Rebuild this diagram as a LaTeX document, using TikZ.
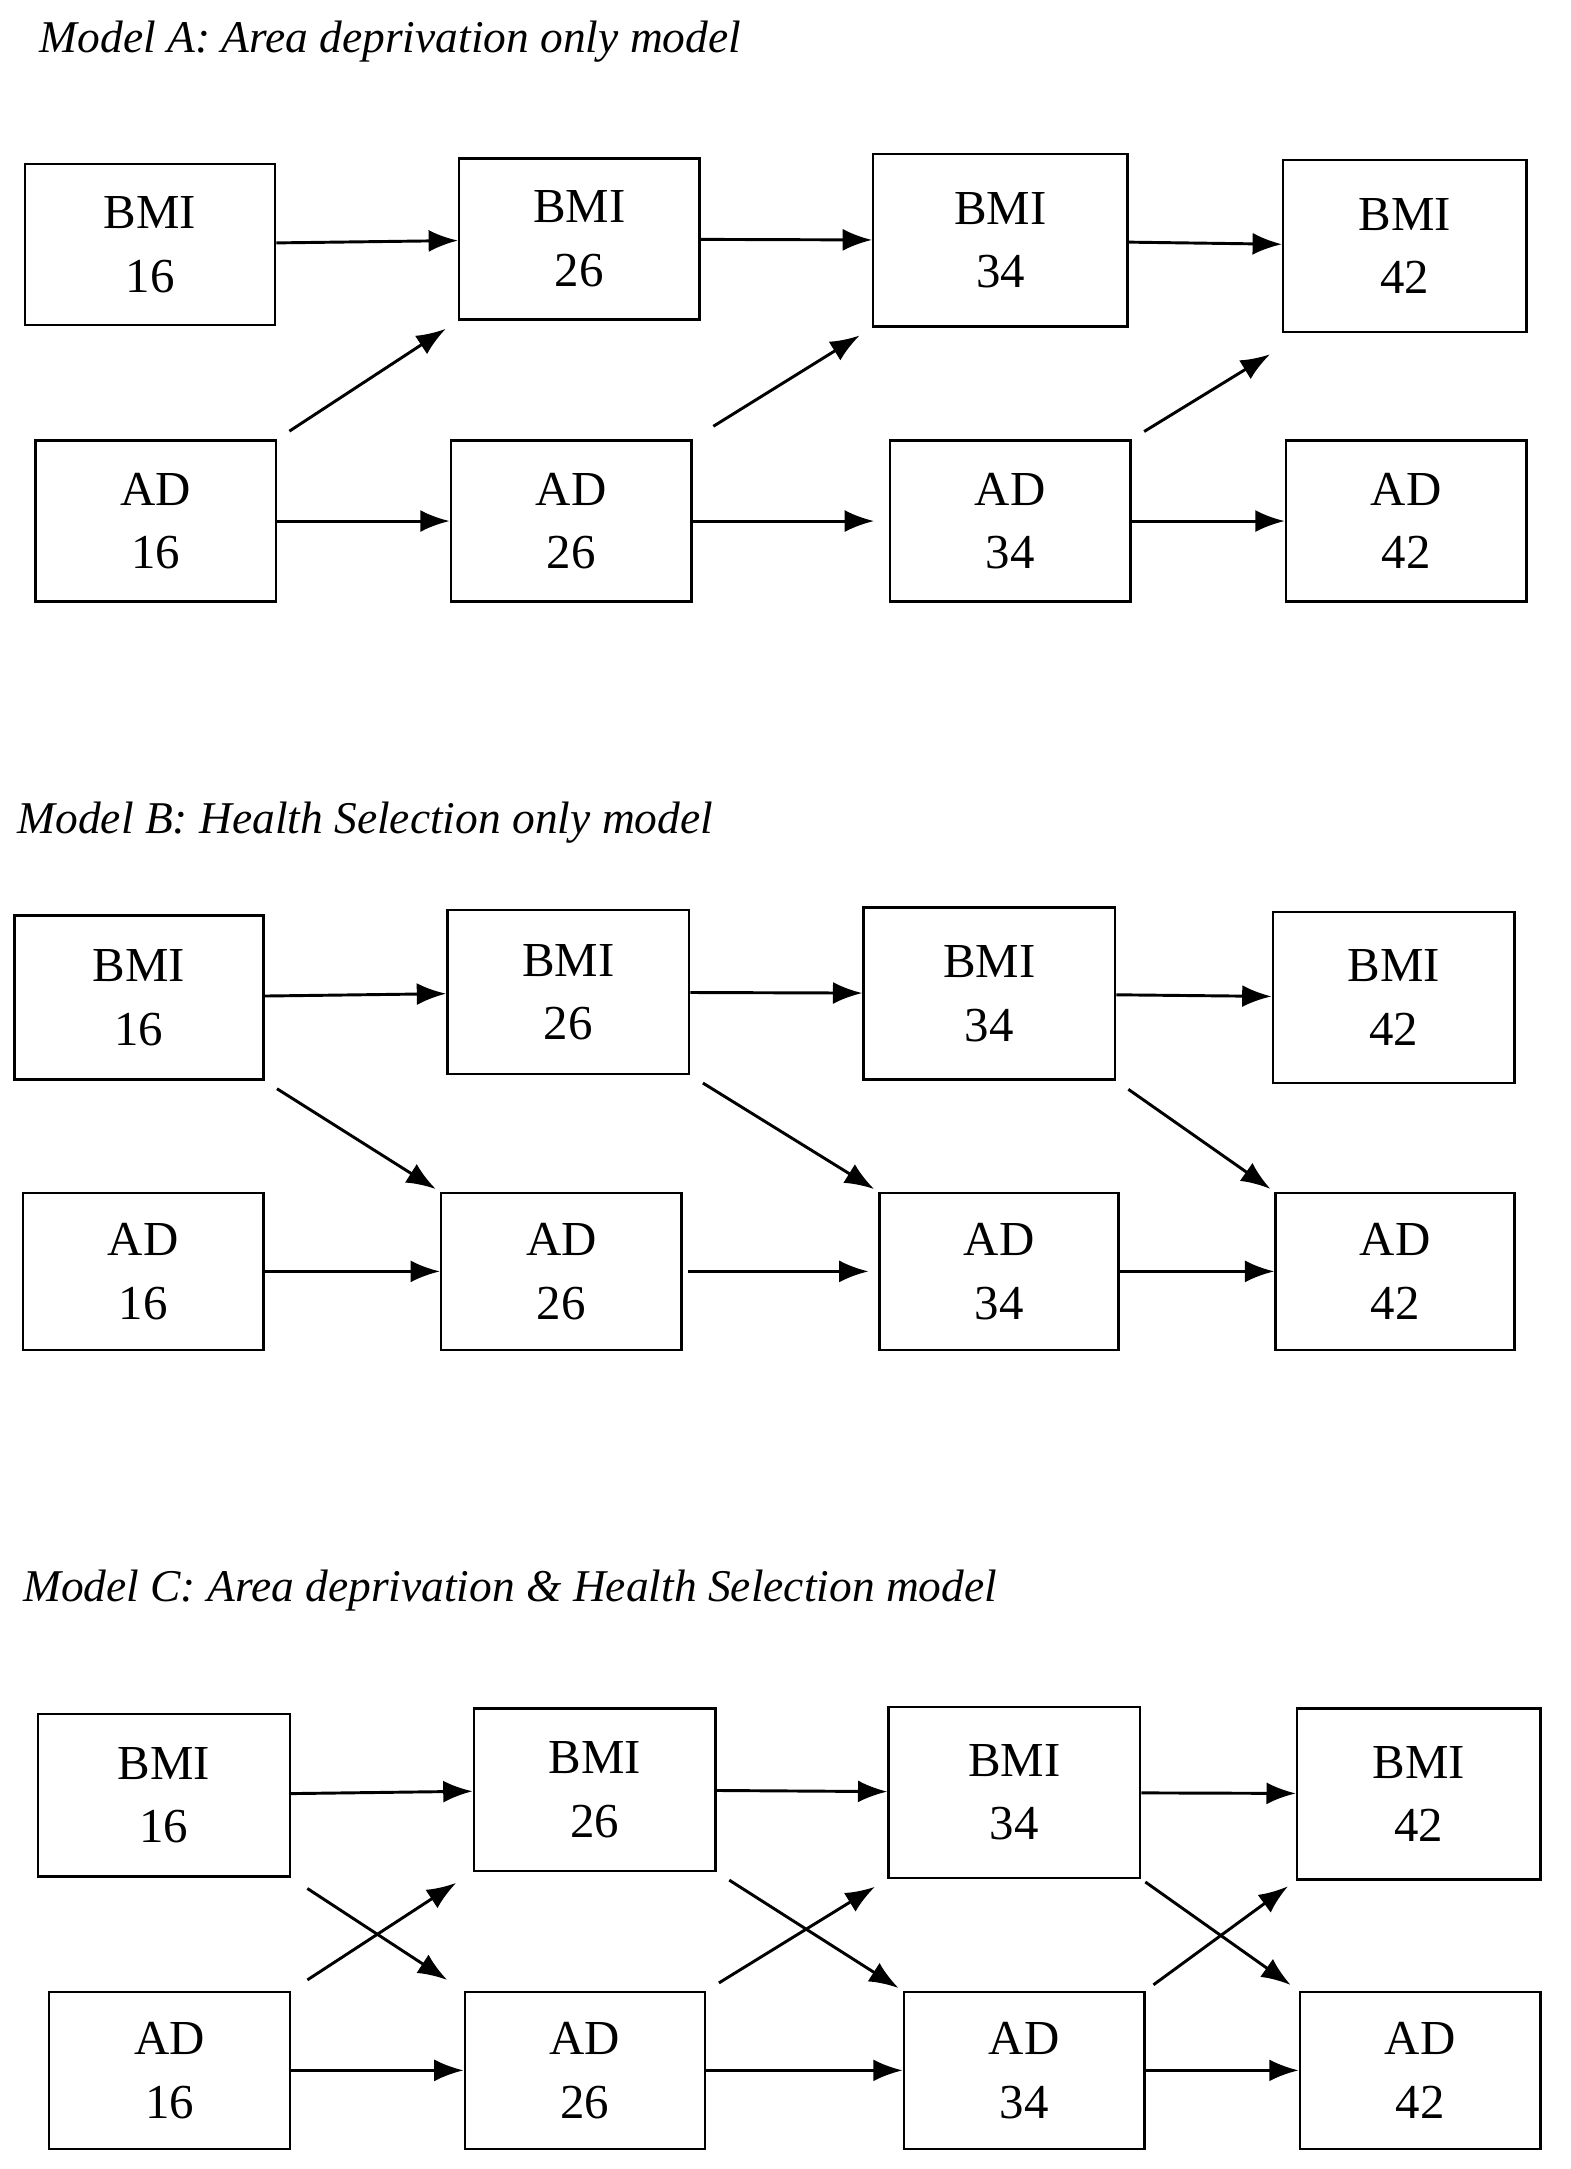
\documentclass[tikz,border=0pt]{standalone}
\usepackage{fontspec}
\setmainfont{Liberation Serif}
\usetikzlibrary{arrows.meta}
\usetikzlibrary{positioning}

\begin{document}
\begin{tikzpicture}[x=0.01cm,y=-0.01cm]
	\tikzset{box/.style = {shape=rectangle,draw,line width=0.5pt,
			minimum width=1.73cm, minimum height=1.16cm,
			align=center, font=\fontsize{10}{13}\selectfont, inner sep=0pt}}
	\tikzset{edge/.style = {-{Latex[length=6pt,width=4.5pt]}, line width=0.6pt}}
	\tikzset{title/.style = {anchor=west, font=\fontsize{9.3}{12}\selectfont\itshape, inner sep=0pt}}
	\useasboundingbox (0,0) rectangle (1130,1561);

	% Model A
	\node[title] (tA) at (28,30) {Model A: Area deprivation only model};
	\node[box, minimum width=1.80cm] (a1) at (108,176) {BMI\\16};
	\node[box] (a2) at (417,172) {BMI\\26};
	\node[box, minimum width=1.83cm, minimum height=1.24cm] (a3) at (720,173) {BMI\\34};
	\node[box, minimum width=1.75cm, minimum height=1.24cm] (a4) at (1011,177) {BMI\\42};
	\node[box] (a5) at (112,375) {AD\\16};
	\node[box] (a6) at (411,375) {AD\\26};
	\node[box] (a7) at (727,375) {AD\\34};
	\node[box] (a8) at (1012,375) {AD\\42};
	\coordinate (a4in) at (914,255);

	%edges
	\draw[edge] (a1) -- (a2);
	\draw[edge] (a2) -- (a3);
	\draw[edge] (a3) -- (a4);
	\draw[edge] (a5) -- (a6);
	\draw[edge, shorten >=3pt] (a6) -- (a7);
	\draw[edge] (a7) -- (a8);
	\draw[edge, shorten <=3pt, shorten >=3pt] (a5.north east) -- (a2.south west);
	\draw[edge, shorten <=5pt, shorten >=3pt] (a6.north east) -- (a3.south west);
	\draw[edge, shorten <=3pt] (a7.north east) -- (a4in);

	% Model B
	\node[title] (tB) at (12,592) {Model B: Health Selection only model};
	\node[box, minimum width=1.79cm, minimum height=1.18cm] (b1) at (100,718) {BMI\\16};
	\node[box, minimum width=1.74cm, minimum height=1.18cm] (b2) at (409,714) {BMI\\26};
	\node[box, minimum width=1.81cm, minimum height=1.24cm] (b3) at (712,715) {BMI\\34};
	\node[box, minimum width=1.74cm, minimum height=1.23cm] (b4) at (1003,718) {BMI\\42};
	\node[box, minimum height=1.13cm] (b5) at (103,915) {AD\\16};
	\node[box, minimum height=1.13cm] (b6) at (404,915) {AD\\26};
	\node[box, minimum width=1.72cm, minimum height=1.13cm] (b7) at (719,915) {AD\\34};
	\node[box, minimum width=1.72cm, minimum height=1.13cm] (b8) at (1004,915) {AD\\42};

	%edges
	\draw[edge] (b1) -- (b2);
	\draw[edge] (b2) -- (b3);
	\draw[edge] (b3) -- (b4);
	\draw[edge] (b5) -- (b6);
	\draw[edge, shorten <=1pt, shorten >=2pt] (b6) -- (b7);
	\draw[edge] (b7) -- (b8);
	\draw[edge, shorten <=3pt, shorten >=1pt] (b1.south east) -- (b6.north west);
	\draw[edge, shorten <=3pt, shorten >=1pt] (b2.south east) -- (b7.north west);
	\draw[edge, shorten <=3pt, shorten >=1pt] (b3.south east) -- (b8.north west);

	% Model C
	\node[title] (tC) at (16,1145) {Model C: Area deprivation \& Health Selection model};
	\node[box, minimum width=1.81cm, minimum height=1.17cm] (c1) at (118,1292) {BMI\\16};
	\node[box, minimum width=1.74cm, minimum height=1.17cm] (c2) at (428,1288) {BMI\\26};
	\node[box, minimum width=1.81cm, minimum height=1.23cm] (c3) at (730,1290) {BMI\\34};
	\node[box, minimum width=1.75cm, minimum height=1.23cm] (c4) at (1021,1291) {BMI\\42};
	\node[box, minimum height=1.13cm] (c5) at (122,1490) {AD\\16};
	\node[box, minimum height=1.13cm] (c6) at (421,1490) {AD\\26};
	\node[box, minimum height=1.13cm] (c7) at (737,1490) {AD\\34};
	\node[box, minimum height=1.13cm] (c8) at (1022,1490) {AD\\42};

	%edges
	\draw[edge] (c1) -- (c2);
	\draw[edge] (c2) -- (c3);
	\draw[edge] (c3) -- (c4);
	\draw[edge] (c5) -- (c6);
	\draw[edge] (c6) -- (c7);
	\draw[edge] (c7) -- (c8);
	\draw[edge, shorten <=4pt, shorten >=4pt] (c1.south east) -- (c6.north west);
	\draw[edge, shorten <=4pt, shorten >=4pt] (c5.north east) -- (c2.south west);
	\draw[edge, shorten <=3pt, shorten >=1pt] (c2.south east) -- (c7.north west);
	\draw[edge, shorten <=3pt, shorten >=3pt] (c6.north east) -- (c3.south west);
	\draw[edge, shorten <=1pt, shorten >=2pt] (c3.south east) -- (c8.north west);
	\draw[edge, shorten <=2pt, shorten >=2pt] (c7.north east) -- (c4.south west);
\end{tikzpicture}
\end{document}
